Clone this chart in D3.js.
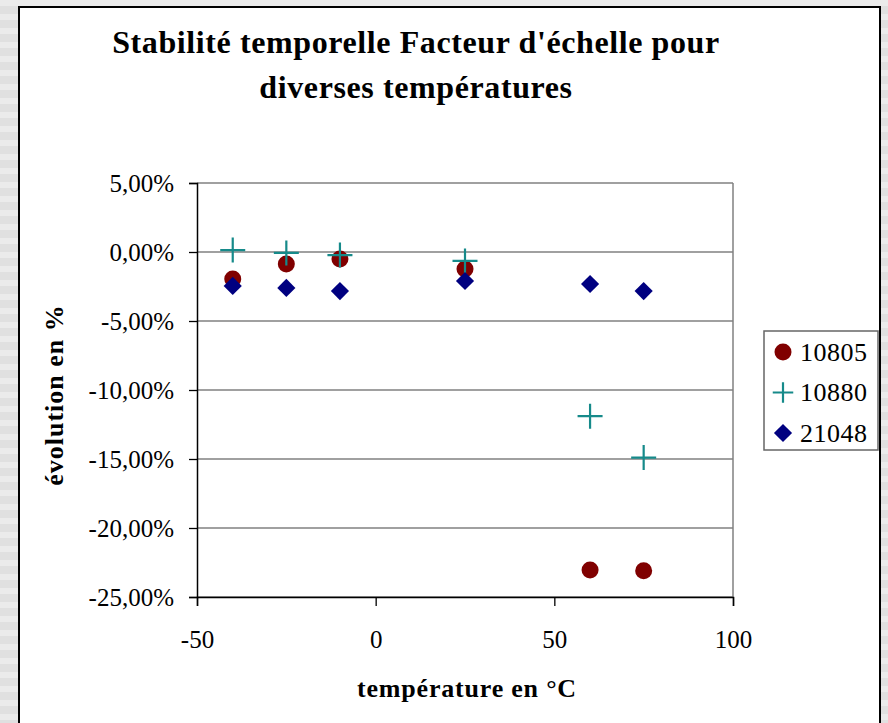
<!DOCTYPE html>
<html>
<head>
<meta charset="utf-8">
<script src="https://cdn.jsdelivr.net/npm/d3@7"></script>
<style>
  html, body { margin: 0; padding: 0; background: #e2e2e2; }
  svg { display: block; }
</style>
</head>
<body>
<svg id="chart" width="888" height="723"></svg>
<script>
// Temperatures (°C) at which each sensor was measured
const temps = [-40, -25, -10, 25, 60, 75];

// Relative change (fraction) per series
const s10805 = [-0.0196, -0.0087, -0.0051, -0.0123, -0.2304, -0.2310];
const s10880 = [0.0014, -0.0007, -0.0022, -0.0065, -0.1190, -0.1490];
const s21048 = [-0.0246, -0.0260, -0.0283, -0.0210, -0.0232, -0.0283];

const seriesNames = ['10805', '10880', '21048'];
const seriesColors = ['#800000', '#168a8a', '#000080'];
const seriesShapes = ['circle', 'cross', 'diamond'];

const xTicks = [-50, 0, 50, 100];
const yTicks = [0.05, 0, -0.05, -0.10, -0.15, -0.20, -0.25];

const titleLines = ["Stabilité temporelle Facteur d'échelle pour", 'diverses températures'];

const series = [s10805, s10880, s21048].map((vals, i) => ({
  name: seriesNames[i],
  color: seriesColors[i],
  shape: seriesShapes[i],
  points: vals.map((v, j) => ({ x: temps[j], y: v }))
}));

const svg = d3.select('#chart');
const W = 888, H = 723;
const plot = { left: 197, top: 183, right: 733, bottom: 597 };
const serif = 'Liberation Serif, Times New Roman, serif';

// faint striped backdrop outside the chart frame
const bg = svg.append('g');
bg.append('rect').attr('width', W).attr('height', H).attr('fill', '#e0e0e0');
bg.selectAll('rect.stripe')
  .data(d3.range(0, H, 14))
  .join('rect')
  .attr('class', 'stripe')
  .attr('x', 0).attr('y', d => d)
  .attr('width', W).attr('height', 6)
  .attr('fill', '#ebebeb');

// chart frame
svg.append('rect')
  .attr('x', 19).attr('y', 7)
  .attr('width', 861).attr('height', 730)
  .attr('fill', '#fff')
  .attr('stroke', '#000')
  .attr('stroke-width', 2);

const x = d3.scaleLinear().domain([-50, 100]).range([plot.left, plot.right]);
const y = d3.scaleLinear().domain([-0.25, 0.05]).range([plot.bottom, plot.top]);

// title
svg.append('text')
  .attr('x', 416).attr('y', 53)
  .attr('text-anchor', 'middle')
  .attr('font-family', serif)
  .attr('font-weight', 'bold')
  .attr('font-size', 32)
  .attr('letter-spacing', 0.6)
  .selectAll('tspan')
  .data(titleLines)
  .join('tspan')
  .attr('x', 416)
  .attr('dy', (d, i) => i === 0 ? 0 : 45)
  .text(d => d);

// gridlines
svg.append('g')
  .selectAll('line')
  .data(yTicks)
  .join('line')
  .attr('x1', plot.left).attr('x2', plot.right)
  .attr('y1', d => y(d)).attr('y2', d => y(d))
  .attr('stroke', '#808080')
  .attr('stroke-width', 1.5);

// right frame edge
svg.append('line')
  .attr('x1', plot.right).attr('x2', plot.right)
  .attr('y1', plot.top).attr('y2', plot.bottom)
  .attr('stroke', '#808080')
  .attr('stroke-width', 1.5);

// French-style numbers with a plain hyphen for the minus sign
const fr = d3.formatLocale({ decimal: ',', thousands: ' ', grouping: [3], currency: ['', ' €'], minus: '-' });
const fmtPct = d => fr.format('.2f')(d * 100) + '%';

// y axis
const yAxis = svg.append('g')
  .attr('transform', `translate(${plot.left},0)`)
  .call(d3.axisLeft(y).tickValues(yTicks).tickFormat(fmtPct).tickSize(8).tickPadding(15));

// x axis
const xAxis = svg.append('g')
  .attr('transform', `translate(0,${plot.bottom})`)
  .call(d3.axisBottom(x).tickValues(xTicks).tickFormat(fr.format('d')).tickSize(9).tickPadding(24));

[yAxis, xAxis].forEach(a => {
  a.select('.domain').attr('stroke', '#000').attr('stroke-width', 1.5);
  a.selectAll('.tick line').attr('stroke', '#000').attr('stroke-width', 1.3);
  a.selectAll('.tick text')
    .attr('font-family', serif)
    .attr('font-size', 25)
    .attr('fill', '#000');
});
yAxis.selectAll('.tick text').attr('dy', '0.34em');
xAxis.selectAll('.tick text').attr('dy', '0.71em');

// axis titles
svg.append('text')
  .attr('transform', 'translate(63,395) rotate(-90)')
  .attr('text-anchor', 'middle')
  .attr('font-family', serif)
  .attr('font-weight', 'bold')
  .attr('font-size', 26)
  .attr('letter-spacing', 1)
  .text('évolution en %');

svg.append('text')
  .attr('x', 467).attr('y', 697)
  .attr('text-anchor', 'middle')
  .attr('font-family', serif)
  .attr('font-weight', 'bold')
  .attr('font-size', 26)
  .attr('letter-spacing', 0.8)
  .text('température en °C');

// marker drawing
function drawMarker(sel, shape, color, scale) {
  const k = scale || 1;
  if (shape === 'circle') {
    sel.append('circle').attr('r', 8.5 * k).attr('fill', color);
  } else if (shape === 'diamond') {
    sel.append('path')
      .attr('d', d3.symbol(d3.symbolSquare, 165 * k * k)())
      .attr('transform', 'rotate(45)')
      .attr('fill', color);
  } else {
    const a = 12.5 * k;
    sel.append('path')
      .attr('d', `M${-a},0H${a}M0,${-a}V${a}`)
      .attr('stroke', color)
      .attr('stroke-width', 2.2)
      .attr('fill', 'none');
  }
}

// points
series.forEach(s => {
  svg.append('g')
    .selectAll('g')
    .data(s.points)
    .join('g')
    .attr('transform', d => `translate(${x(d.x)},${y(d.y)})`)
    .each(function () { drawMarker(d3.select(this), s.shape, s.color); });
});

// legend
const legend = svg.append('g').attr('transform', 'translate(764,331)');
legend.append('rect')
  .attr('width', 114).attr('height', 119)
  .attr('fill', '#fff')
  .attr('stroke', '#666')
  .attr('stroke-width', 1.5);

const item = legend.selectAll('g.item')
  .data(series)
  .join('g')
  .attr('class', 'item')
  .attr('transform', (d, i) => `translate(19,${21 + i * 40.5})`);

item.each(function (d) { drawMarker(d3.select(this), d.shape, d.color, d.shape === 'cross' ? 0.82 : 1); });
item.append('text')
  .attr('x', 17).attr('dy', '0.34em')
  .attr('font-family', serif)
  .attr('font-size', 26)
  .attr('letter-spacing', 0.5)
  .text(d => d.name);
</script>
</body>
</html>
